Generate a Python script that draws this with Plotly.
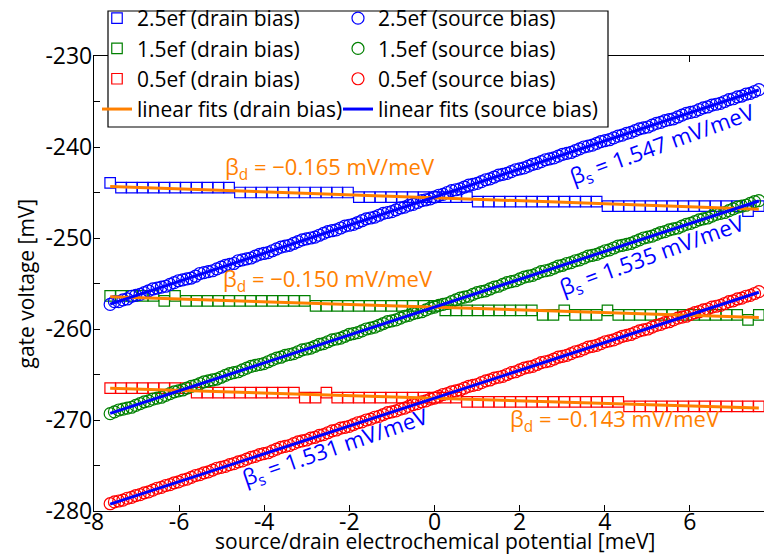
import numpy as np
import plotly.graph_objects as go

FONT = "Open Sans"

# ---------------- data ----------------
x_source = np.linspace(-7.62, 7.62, 153)   # source-bias sweep grid [meV]
x_drain = np.linspace(-7.62, 7.62, 61)     # drain-bias sweep grid [meV]

src_25 = [-257.3, -257.0, -257.0, -256.8, -256.7, -256.4, -256.3, -256.2, -256.0, -255.8,
          -255.6, -255.5, -255.4, -255.3, -255.1, -254.9, -254.7, -254.6, -254.5, -254.4,
          -254.2, -253.9, -253.8, -253.7, -253.6, -253.4, -253.2, -253.0, -252.9, -252.8,
          -252.5, -252.4, -252.3, -252.2, -252.0, -251.8, -251.7, -251.6, -251.4, -251.2,
          -251.0, -250.9, -250.8, -250.6, -250.4, -250.2, -250.1, -250.0, -249.9, -249.7,
          -249.5, -249.3, -249.2, -249.1, -248.9, -248.7, -248.6, -248.5, -248.3, -248.1,
          -247.9, -247.8, -247.7, -247.5, -247.3, -247.2, -247.1, -246.9, -246.7, -246.6,
          -246.4, -246.3, -246.1, -245.9, -245.8, -245.7, -245.5, -245.3, -245.2, -245.0,
          -244.8, -244.7, -244.6, -244.4, -244.2, -244.1, -244.0, -243.8, -243.6, -243.5,
          -243.3, -243.1, -243.0, -242.9, -242.7, -242.5, -242.4, -242.3, -242.1, -241.9,
          -241.8, -241.6, -241.4, -241.3, -241.2, -241.0, -240.8, -240.7, -240.6, -240.4,
          -240.2, -240.0, -239.9, -239.8, -239.6, -239.4, -239.3, -239.2, -239.0, -238.8,
          -238.7, -238.5, -238.4, -238.2, -238.0, -237.9, -237.8, -237.6, -237.4, -237.3,
          -237.1, -237.0, -236.9, -236.7, -236.5, -236.3, -236.2, -236.1, -235.9, -235.7,
          -235.6, -235.4, -235.3, -235.2, -235.0, -234.8, -234.7, -234.5, -234.4, -234.2,
          -234.1, -233.9, -233.7]

src_15 = [-269.3, -269.1, -268.9, -268.8, -268.7, -268.6, -268.4, -268.2, -268.0, -267.9,
          -267.7, -267.6, -267.5, -267.3, -267.1, -266.9, -266.8, -266.7, -266.5, -266.3,
          -266.2, -266.0, -265.8, -265.7, -265.6, -265.5, -265.3, -265.1, -264.9, -264.8,
          -264.7, -264.5, -264.3, -264.1, -264.0, -263.9, -263.8, -263.6, -263.4, -263.2,
          -263.1, -262.9, -262.8, -262.7, -262.5, -262.3, -262.2, -262.1, -261.9, -261.7,
          -261.6, -261.4, -261.2, -261.1, -261.0, -260.8, -260.6, -260.5, -260.4, -260.2,
          -260.0, -259.9, -259.8, -259.6, -259.4, -259.2, -259.1, -259.0, -258.8, -258.6,
          -258.5, -258.3, -258.2, -258.1, -257.9, -257.7, -257.6, -257.4, -257.3, -257.2,
          -257.0, -256.8, -256.6, -256.5, -256.4, -256.2, -256.0, -255.9, -255.8, -255.6,
          -255.4, -255.3, -255.1, -254.9, -254.8, -254.7, -254.5, -254.3, -254.2, -254.1,
          -253.9, -253.7, -253.6, -253.5, -253.3, -253.1, -253.0, -252.8, -252.7, -252.5,
          -252.4, -252.2, -252.0, -251.9, -251.8, -251.6, -251.4, -251.3, -251.1, -250.9,
          -250.8, -250.7, -250.6, -250.4, -250.2, -250.0, -249.9, -249.8, -249.6, -249.4,
          -249.3, -249.1, -249.0, -248.9, -248.7, -248.5, -248.4, -248.2, -248.0, -247.9,
          -247.8, -247.6, -247.4, -247.3, -247.2, -247.0, -246.8, -246.6, -246.5, -246.4,
          -246.2, -246.0, -245.9]

src_05 = [-279.2, -279.0, -278.9, -278.8, -278.6, -278.5, -278.3, -278.2, -278.0, -277.9,
          -277.7, -277.5, -277.4, -277.2, -277.1, -276.9, -276.8, -276.6, -276.5, -276.3,
          -276.1, -276.0, -275.8, -275.7, -275.5, -275.3, -275.2, -275.1, -274.9, -274.8,
          -274.6, -274.5, -274.3, -274.1, -274.0, -273.8, -273.7, -273.6, -273.4, -273.2,
          -273.0, -272.9, -272.8, -272.6, -272.4, -272.3, -272.2, -272.0, -271.9, -271.7,
          -271.6, -271.4, -271.2, -271.1, -270.9, -270.8, -270.7, -270.5, -270.3, -270.2,
          -270.0, -269.9, -269.7, -269.6, -269.4, -269.2, -269.1, -269.0, -268.8, -268.7,
          -268.5, -268.3, -268.2, -268.0, -267.9, -267.7, -267.6, -267.4, -267.2, -267.1,
          -266.9, -266.8, -266.7, -266.5, -266.3, -266.2, -266.1, -265.9, -265.7, -265.6,
          -265.4, -265.3, -265.2, -265.0, -264.8, -264.7, -264.5, -264.3, -264.2, -264.1,
          -263.9, -263.7, -263.6, -263.5, -263.3, -263.1, -263.0, -262.9, -262.7, -262.5,
          -262.4, -262.2, -262.0, -261.9, -261.8, -261.6, -261.4, -261.3, -261.2, -261.0,
          -260.8, -260.7, -260.6, -260.4, -260.2, -260.1, -260.0, -259.8, -259.6, -259.5,
          -259.3, -259.2, -259.0, -258.8, -258.7, -258.6, -258.4, -258.2, -258.1, -257.9,
          -257.8, -257.6, -257.5, -257.4, -257.2, -257.0, -256.9, -256.7, -256.6, -256.4,
          -256.3, -256.1, -255.9]

drain_25 = ([-243.95] + [-244.47] * 11 + [-245.0] * 11 + [-245.5] * 11 + [-246.0] * 12
            + [-246.5] * 13 + [-247.05] + [-246.5])
drain_15 = ([-256.35] * 5 + [-256.9] + [-256.35] + [-256.9] * 12 + [-257.45] * 12
            + [-257.95] * 9 + [-258.45] * 2 + [-257.95] + [-258.45] * 3 + [-257.95]
            + [-258.45] * 12 + [-259.0] + [-258.45])
drain_05 = ([-266.5] * 8 + [-267.0] * 10 + [-267.55] * 2 + [-267.0] + [-267.55] * 12
            + [-268.0] * 15 + [-268.5] * 13)

fit_x = [-7.62, 7.62]
fit_drain_25 = [-244.33, -246.83]
fit_drain_15 = [-256.46, -258.74]
fit_drain_05 = [-266.51, -268.69]
fit_src_25 = [-257.26, -233.74]
fit_src_15 = [-269.27, -245.93]
fit_src_05 = [-279.24, -255.96]

x_tickvals = [-8, -6, -4, -2, 0, 2, 4, 6, 8]
x_ticktext = ["-8", "-6", "-4", "-2", "0", "2", "4", "6", "8"]
y_tickvals = [-280, -275, -270, -265, -260, -255, -250, -245, -240, -235, -230]
y_ticktext = ["-280", " ", "-270", " ", "-260", " ", "-250", " ", "-240", " ", "-230"]

BLUE = "rgb(0,0,255)"
GREEN = "rgb(0,128,0)"
RED = "rgb(255,0,0)"
ORANGE = "rgb(255,128,0)"

fig = go.Figure()

# drain-bias squares
for name, ys, col in [("2.5ef (drain bias)", drain_25, BLUE),
                      ("1.5ef (drain bias)", drain_15, GREEN),
                      ("0.5ef (drain bias)", drain_05, RED)]:
    fig.add_trace(go.Scatter(x=x_drain, y=ys, mode="markers", name=name,
                             marker=dict(symbol="square-open", size=10.5, color=col,
                                         line=dict(width=1.2, color=col)),
                             legend="legend", legendgroup=name))

# source-bias circles
for name, ys, col in [("2.5ef (source bias)", src_25, BLUE),
                      ("1.5ef (source bias)", src_15, GREEN),
                      ("0.5ef (source bias)", src_05, RED)]:
    fig.add_trace(go.Scatter(x=x_source, y=ys, mode="markers", name=name,
                             marker=dict(symbol="circle-open", size=12, color=col,
                                         line=dict(width=1.2, color=col)),
                             legend="legend2", legendgroup=name))

# drain fits
for i, ys in enumerate([fit_drain_25, fit_drain_15, fit_drain_05]):
    fig.add_trace(go.Scatter(x=fit_x, y=ys, mode="lines", name="linear fits (drain bias)",
                             line=dict(color=ORANGE, width=3), showlegend=(i == 0),
                             legend="legend", legendgroup="fitd"))
# source fits
for i, ys in enumerate([fit_src_25, fit_src_15, fit_src_05]):
    fig.add_trace(go.Scatter(x=fit_x, y=ys, mode="lines", name="linear fits (source bias)",
                             line=dict(color=BLUE, width=3), showlegend=(i == 0),
                             legend="legend2", legendgroup="fits"))

# plot area in px: x 86..767, y 48..503
L, R, T, B = 86, 5, 48, 53
W, H = 772, 556
PW, PH = W - L - R, H - T - B

def px2paper_x(px):
    return (px - L) / PW

def px2paper_y(py):
    return (H - B - py) / PH

fig.add_shape(type="rect", xref="paper", yref="paper",
              x0=px2paper_x(100), x1=px2paper_x(600),
              y0=px2paper_y(119), y1=px2paper_y(3),
              fillcolor="white", line=dict(color="black", width=1.2), layer="above")

leg_common = dict(xanchor="left", yanchor="top", bgcolor="rgba(0,0,0,0)", borderwidth=0,
                  tracegroupgap=0, font=dict(family=FONT, size=21, color="black"),
                  itemwidth=30, orientation="v")

TXT = 22
annotations = [
    dict(x=-2.46, y=-242.3, text="β<sub>d</sub> = −0.165 mV/meV", color=ORANGE, angle=0),
    dict(x=-2.51, y=-254.65, text="β<sub>d</sub> = −0.150 mV/meV", color=ORANGE, angle=0),
    dict(x=4.23, y=-270.05, text="β<sub>d</sub> = −0.143 mV/meV", color=ORANGE, angle=0),
    dict(x=5.36, y=-239.75, text="β<sub>s</sub> = 1.547 mV/meV", color=BLUE, angle=-20),
    dict(x=5.12, y=-252.0, text="β<sub>s</sub> = 1.535 mV/meV", color=BLUE, angle=-20),
    dict(x=-2.33, y=-273.05, text="β<sub>s</sub> = 1.531 mV/meV", color=BLUE, angle=-19),
]
anns = []
for a in annotations:
    anns.append(dict(xref="x", yref="y", x=a["x"], y=a["y"], text=a["text"], showarrow=False,
                     textangle=a["angle"], font=dict(family=FONT, size=TXT, color=a["color"])))

# axis titles
anns.append(dict(xref="paper", yref="paper", x=px2paper_x(427), y=px2paper_y(533),
                 xanchor="center", yanchor="middle", showarrow=False,
                 text="source/drain electrochemical potential [meV]",
                 font=dict(family=FONT, size=21, color="black")))
anns.append(dict(xref="paper", yref="paper", x=px2paper_x(17), y=0.5,
                 xanchor="center", yanchor="middle", showarrow=False, textangle=-90,
                 text="gate voltage [mV]",
                 font=dict(family=FONT, size=21, color="black")))

axis_common = dict(showline=True, linecolor="black", linewidth=1.3, mirror="ticks",
                   ticks="inside", ticklen=6, tickwidth=1.3, tickcolor="black",
                   showgrid=False, zeroline=False,
                   tickfont=dict(family=FONT, size=23, color="black"))

fig.update_layout(
    width=W, height=H,
    margin=dict(l=L, r=R, t=T, b=B, autoexpand=False),
    paper_bgcolor="white", plot_bgcolor="white",
    font=dict(family=FONT, size=21, color="black"),
    xaxis=dict(range=[-8, 8], tickvals=x_tickvals, ticktext=x_ticktext,
               ticklabelstandoff=-10, **axis_common),
    yaxis=dict(range=[-280, -230], tickvals=y_tickvals, ticktext=y_ticktext,
               ticklabelstandoff=-4, **axis_common),
    legend=dict(x=px2paper_x(89), y=px2paper_y(-10), **leg_common),
    legend2=dict(x=px2paper_x(330), y=px2paper_y(-10), **leg_common),
    annotations=anns,
    showlegend=True,
)

fig.write_html("out.html")
